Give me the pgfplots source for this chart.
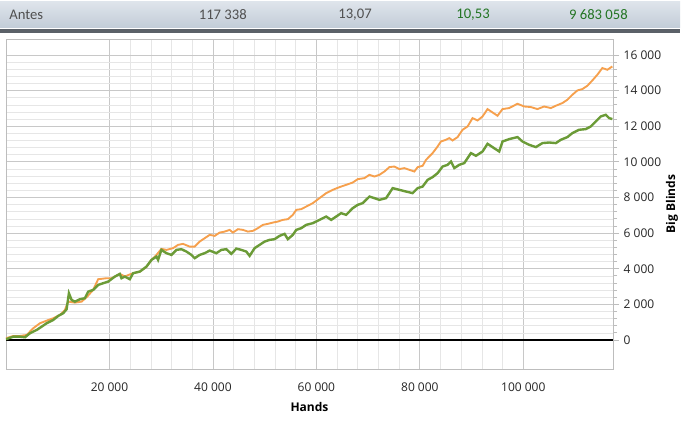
\documentclass[border=0pt]{standalone}
\usepackage{pgfplots}
\pgfplotsset{compat=1.18}
\usepackage{fontspec}
\setmainfont{Open Sans}
\newfontfamily\hdrfont{Carlito}

\definecolor{lineorange}{HTML}{F6A04D}
\definecolor{linegreen}{HTML}{6B9B37}
\definecolor{gridmaj}{HTML}{C8C8C8}
\definecolor{gridmin}{HTML}{E6E6E6}
\definecolor{framec}{HTML}{BDBDBD}
\definecolor{hdrtop}{HTML}{DEE4EB}
\definecolor{hdrbot}{HTML}{C2CCD7}
\definecolor{hdrdark}{HTML}{5B6168}
\definecolor{hdrtext}{HTML}{505050}
\definecolor{hdrgreen}{HTML}{237523}

\begin{document}
\begin{tikzpicture}
\useasboundingbox (0,0) rectangle (511.5pt,331.5pt);
\fill[white] (0,0) rectangle (511.5pt,331.5pt);

% summary row above the chart (coordinates in screen pixels)
\begin{scope}[x=0.75pt,y=0.75pt]
  \shade[top color=hdrtop, bottom color=hdrbot] (0,414) rectangle (680,440);
  \fill[hdrdark] (0,409) rectangle (680,413);
  \begin{scope}[font=\hdrfont\fontsize{11}{13}\selectfont]
    \node[anchor=west, text=hdrtext, inner sep=0] at (9,427) {Antes};
    \node[anchor=east, text=hdrtext, inner sep=0] at (247,427) {117 338};
    \node[anchor=east, text=hdrtext, inner sep=0] at (372,427) {13,07};
    \node[anchor=east, text=hdrgreen, inner sep=0] at (490,427) {10,53};
    \node[anchor=east, text=hdrgreen, inner sep=0] at (628,427) {9 683 058};
  \end{scope}
\end{scope}

\begin{axis}[
  at={(4.5pt,54.75pt)}, anchor=south west,
  scale only axis,
  width=455.25pt, height=247.5pt,
  xmin=0, xmax=117338,
  ymin=-1630, ymax=16900,
  scaled ticks=false,
  xtick={20000,40000,60000,80000,100000},
  xticklabels={20 000,40 000,60 000,80 000,100 000},
  ytick={0,2000,4000,6000,8000,10000,12000,14000,16000},
  yticklabels={0,2 000,4 000,6 000,8 000,10 000,12 000,14 000,16 000},
  minor x tick num=4,
  minor y tick num=4,
  grid=both,
  major grid style={draw=gridmaj, line width=0.6pt},
  minor grid style={draw=gridmin, line width=0.5pt},
  axis line style={draw=framec, line width=0.6pt},
  ytick pos=right,
  yticklabel pos=right,
  tick align=outside,
  major tick length=4.5pt,
  minor tick length=3pt,
  xtick style={draw=none},
  ytick style={draw=framec, line width=0.6pt},
  tick label style={font=\fontsize{9}{11}\selectfont, text=black!85},
  xticklabel style={yshift=-2pt},
  label style={font=\bfseries\fontsize{9}{11}\selectfont},
  xlabel={Hands},
  ylabel={Big Blinds},
  xlabel style={at={(axis description cs:0.5,-0.115)}, anchor=center},
  ylabel style={at={(axis description cs:1.097,0.5)}, anchor=center},
]

% zero line
\addplot[black, line width=1.6pt] coordinates {(0,0) (117338,0)};

% orange series
\addplot[lineorange, line width=1.4pt] coordinates {
(0,96) (1409,225) (2702,225) (3995,281) (5269,658) (6562,939) (7855,1085)
(9129,1220) (10422,1405) (11387,1686) (12024,2152) (13317,2096) (14610,2152)
(15691,2433) (16849,2810) (17814,3411) (19435,3468) (20400,3468) (21037,3557)
(22002,3709) (22967,3569) (24569,3749) (25862,3838) (27155,4103) (28120,4496)
(29085,4777) (30050,5114) (31015,5058) (32289,5154) (33254,5339) (34219,5395)
(35512,5243) (36477,5243) (37442,5524) (38407,5716) (39372,5901) (40337,5845)
(41302,6030) (42267,6086) (43232,6182) (43869,6030) (44834,6221) (45799,6182)
(46764,6086) (47729,6126) (48694,6278) (49659,6463) (50624,6519) (51589,6592)
(52554,6648) (53519,6744) (54484,6783) (55449,7025) (56105,7306) (57070,7345)
(58035,7491) (59309,7683) (60602,7964) (61895,8245) (63169,8430) (64462,8582)
(65755,8711) (67029,8840) (67994,9031) (69287,9088) (70252,9273) (71217,9177)
(72182,9273) (73147,9458) (74112,9706) (75077,9739) (76042,9593) (77007,9650)
(77972,9554) (78937,9458) (79574,9706) (80539,9779) (81196,10116) (82469,10493)
(83434,10863) (84072,11144) (85037,11240) (85692,11336) (86329,11201) (87294,11392)
(88259,11802) (89224,11987) (90189,12459) (91154,12325) (92119,12549) (93084,12965)
(94049,12774) (95014,12589) (95979,12965) (97272,13021) (98874,13263) (100167,13111)
(101460,13078) (102734,12965) (104027,13111) (105320,13021) (106285,13151) (107559,13303)
(108524,13488) (109489,13769) (110454,14011) (111419,14089) (112384,14275) (113349,14573)
(114314,14893) (115279,15270) (116244,15174) (117209,15360)
};

% green series
\addplot[linegreen, line width=1.8pt] coordinates {
(0,40) (1409,185) (2702,185) (3667,152) (4632,377) (5925,562) (6890,747)
(7855,939) (9129,1124) (10094,1349) (11059,1501) (11715,1725) (12159,2625)
(12680,2248) (13317,2152) (14282,2287) (15247,2344) (15884,2714) (16849,2810)
(17814,3091) (18779,3187) (19744,3277) (21037,3557) (22002,3709) (22330,3468)
(22967,3557) (23932,3411) (24569,3749) (25862,3838) (27155,4119) (28120,4496)
(29085,4681) (29394,4496) (30050,5058) (31015,4873) (31980,4777) (32945,5058)
(33910,5097) (34875,4963) (35840,4777) (36477,4592) (37442,4777) (38407,4873)
(39372,5019) (40665,4873) (41630,5058) (42595,5097) (43560,4833) (44525,5131)
(45490,5058) (46455,4963) (47092,4721) (48057,5154) (49022,5339) (49987,5524)
(50952,5620) (51917,5659) (52882,5845) (53847,5957) (54484,5659) (55449,5901)
(56105,6182) (57070,6278) (58035,6463) (59309,6559) (60602,6744) (61895,6929)
(62860,6744) (63825,6929) (64790,7121) (65755,7025) (67029,7402) (67994,7587)
(68959,7683) (70252,8053) (71217,7964) (72182,7868) (73475,7964) (74749,8526)
(76042,8430) (77335,8334) (78609,8245) (79574,8526) (80539,8615) (81504,8992)
(82469,9144) (83434,9368) (84399,9739) (85364,9835) (86020,10020) (86657,9650)
(87622,9835) (88587,9931) (89880,10493) (90845,10341) (92119,10582) (93084,11015)
(94049,10830) (95342,10582) (95979,11144) (97272,11279) (98874,11392) (99839,11144)
(101132,10959) (102425,10830) (103699,11055) (104992,11088) (106285,11055) (107250,11240)
(108524,11392) (109489,11617) (110782,11802) (112075,11841) (113040,11987) (114005,12268)
(114970,12549) (115935,12645) (116572,12459) (117209,12403)
};
\end{axis}
\end{tikzpicture}
\end{document}
